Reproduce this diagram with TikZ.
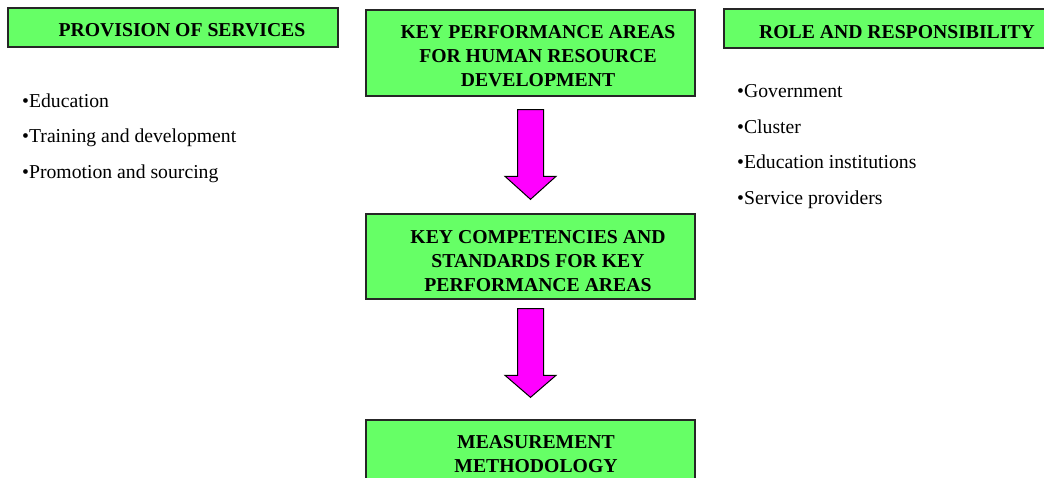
\documentclass[tikz,border=0pt]{standalone}
\usepackage{fontspec}
\setmainfont{Liberation Serif}
\usetikzlibrary{calc}
\definecolor{boxgreen}{HTML}{66FF66}
\definecolor{arrowmag}{HTML}{FF00FF}
\begin{document}
\begin{tikzpicture}[x=1pt,y=-1pt,
  panel/.style={draw=black!85, line width=1.3pt, fill=boxgreen, inner sep=0pt},
  title/.style={font=\fontsize{19.7}{24}\selectfont\bfseries, align=center, inner sep=0pt},
  item/.style={font=\fontsize{19.7}{24}\selectfont, anchor=base west, inner sep=0pt},
  flow/.style={draw=black, line width=1pt, fill=arrowmag, line join=miter}]
\useasboundingbox (0,0) rectangle (1044,478);
\clip (0,0) rectangle (1044,478);

% green panels
\node[panel, minimum width=330pt, minimum height=39pt] (prov) at (173,27.5) {};
\node[panel, minimum width=329pt, minimum height=86pt] (kpa)  at (530.5,53) {};
\node[panel, minimum width=340pt, minimum height=39pt] (role) at (894,28.5) {};
\node[panel, minimum width=329pt, minimum height=85pt] (comp) at (530.5,256.5) {};
\node[panel, minimum width=329pt, minimum height=80pt] (meas) at (530.5,460) {};

% panel titles
\node[title] (prov-t) at (182,30) {PROVISION OF SERVICES};
\node[title] (kpa-t)  at (538,56) {KEY PERFORMANCE AREAS\\FOR HUMAN RESOURCE\\DEVELOPMENT};
\node[title] (role-t) at (897,32) {ROLE AND RESPONSIBILITY};
\node[title] (comp-t) at (538,261) {KEY COMPETENCIES AND\\STANDARDS FOR KEY\\PERFORMANCE AREAS};
\node[title] (meas-t) at (536,454) {MEASUREMENT\\METHODOLOGY};

% block arrows between the central panels
\draw[flow] ($(kpa.south)+(-13,13)$) -- ($(comp.north)+(-13,-37)$)
  -- ($(comp.north)+(-25.5,-37)$) -- ($(comp.north)+(0,-14)$)
  -- ($(comp.north)+(25.5,-37)$) -- ($(comp.north)+(13,-37)$)
  -- ($(kpa.south)+(13,13)$) -- cycle;
\draw[flow] ($(comp.south)+(-13,9)$) -- ($(meas.north)+(-13,-44)$)
  -- ($(meas.north)+(-25.5,-44)$) -- ($(meas.north)+(0,-22)$)
  -- ($(meas.north)+(25.5,-44)$) -- ($(meas.north)+(13,-44)$)
  -- ($(comp.south)+(13,9)$) -- cycle;

% service list
\node[item] (s1) at (22,107.5) {•Education};
\node[item] (s2) at (22,143) {•Training and development};
\node[item] (s3) at (22,179) {•Promotion and sourcing};

% role list
\node[item] (r1) at (737,98) {•Government};
\node[item] (r2) at (737,133.5) {•Cluster};
\node[item] (r3) at (737,169) {•Education institutions};
\node[item] (r4) at (737,204.5) {•Service providers};
\end{tikzpicture}
\end{document}
